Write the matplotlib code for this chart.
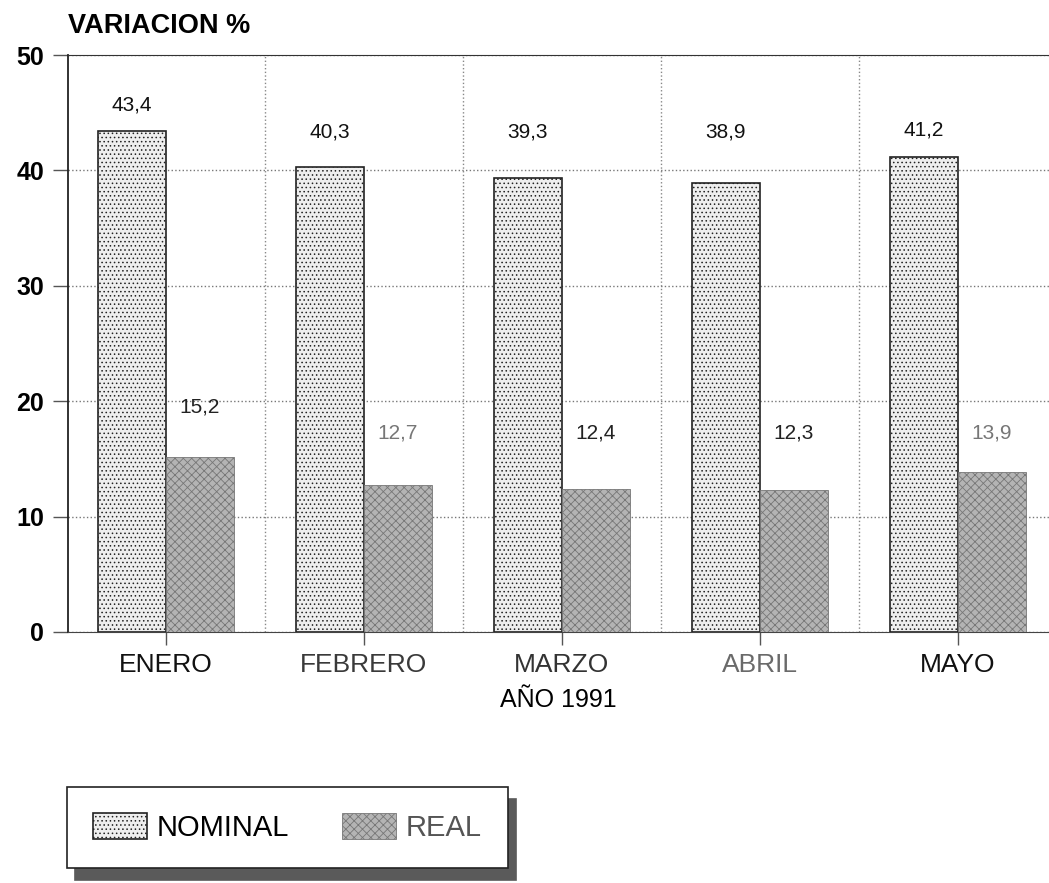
import numpy as np
import matplotlib.pyplot as plt

plt.rcParams['font.family'] = ['Liberation Sans', 'DejaVu Sans']
plt.rcParams['hatch.linewidth'] = 0.6

# datos
meses = ['ENERO', 'FEBRERO', 'MARZO', 'ABRIL', 'MAYO']
nominal = [43.4, 40.3, 39.3, 38.9, 41.2]
real = [15.2, 12.7, 12.4, 12.3, 13.9]
colores_mes = ['#111111', '#3a3a3a', '#333333', '#6a6a6a', '#111111']

fig = plt.figure(figsize=(10.49, 8.83), dpi=100)
ax = fig.add_axes([0.0648, 0.2843, 0.9352, 0.6534])

x = np.arange(len(meses))
w = 0.343

plt.rcParams['hatch.color'] = '#9a9a9a'
b1 = ax.bar(x - w / 2, nominal, w, color='#eeeeee', edgecolor='#222222',
            linewidth=1.2, hatch='....', label='NOMINAL', zorder=3)
b2 = ax.bar(x + w / 2, real, w, color='#b4b4b4', edgecolor='#777777',
            linewidth=0.6, hatch='xxxx', label='REAL', zorder=3)


def pos_etiqueta(v, fila, extra):
    # las etiquetas van en una fila fija salvo que la barra la tape
    return fila if v + 2.5 < fila else v + extra


for i in range(len(meses)):
    ax.text(x[i] - w / 2, pos_etiqueta(nominal[i], 43.3, 2.3),
            f'{nominal[i]:.1f}'.replace('.', ','),
            ha='center', va='center', fontsize=15, color='#111111')
    ax.text(x[i] + w / 2, pos_etiqueta(real[i], 17.2, 4.3),
            f'{real[i]:.1f}'.replace('.', ','),
            ha='center', va='center', fontsize=15,
            color='#777777' if i in (1, 4) else '#222222')

ax.set_xlim(-0.495, 4.46)
ax.set_ylim(0, 50)
ax.set_yticks([0, 10, 20, 30, 40, 50])
ax.set_xticks(x)
ax.set_xticklabels(meses, fontsize=19)
for lbl, c in zip(ax.get_xticklabels(), colores_mes):
    lbl.set_color(c)
ax.set_xticks(x[:-1] + 0.5, minor=True)
ax.tick_params(axis='x', which='minor', length=0)
ax.tick_params(axis='x', which='major', length=9.5, width=1, color='#555555', pad=6)
ax.tick_params(axis='y', length=11, width=1, color='#555555', pad=6, labelsize=18)
for lbl in ax.get_yticklabels():
    lbl.set_fontweight('bold')

ax.grid(True, axis='y', linestyle=':', color='#777777', linewidth=1, zorder=0)
ax.grid(True, axis='x', which='minor', linestyle=':', color='#888888', linewidth=1, zorder=0)

ax.spines['right'].set_visible(False)
ax.spines['top'].set_color('#333333')
ax.spines['left'].set_color('#222222')
ax.spines['left'].set_linewidth(1.3)
ax.spines['bottom'].set_color('#444444')

fig.text(0.0648, 0.9706, 'VARIACION %', fontsize=19.5, fontweight='bold', va='center')
fig.text(0.532, 0.2073, 'AÑO 1991', fontsize=18, ha='center', va='center')

leg = fig.legend(handles=[b1, b2], loc='lower left', bbox_to_anchor=(0.0639, 0.017),
                 ncol=2, frameon=True, fancybox=False, edgecolor='#222222', fontsize=21,
                 borderpad=0.89, handlelength=1.85, handleheight=1.03, handletextpad=0.34,
                 columnspacing=1.8, borderaxespad=0,
                 shadow={'ox': 6, 'oy': -9, 'color': '#5a5a5a', 'alpha': 1})
leg.get_frame().set_linewidth(1.2)
leg.get_texts()[1].set_color('#555555')

fig.savefig('out.png', dpi=100)
